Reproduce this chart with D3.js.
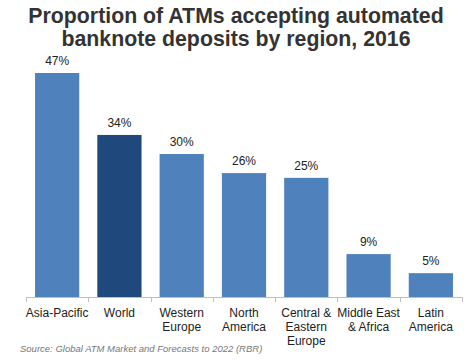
<!DOCTYPE html>
<html><head><meta charset="utf-8">
<script src="https://cdn.jsdelivr.net/npm/d3@7"></script>
<style>body{margin:0;background:#fff;}svg{display:block;font-family:"Liberation Sans",Arial,sans-serif;}</style>
</head><body><svg id="c" width="470" height="360"></svg>
<script>
const categories = [["Asia-Pacific"],["World"],["Western","Europe"],["North","America"],["Central &","Eastern","Europe"],["Middle East","& Africa"],["Latin","America"]];
const values = [47,34,30,26,25,9,5];
const highlight = [false,true,false,false,false,false,false];
const titleLines = ["Proportion of ATMs accepting automated","banknote deposits by region, 2016"];
const source = "Source: Global ATM Market and Forecasts to 2022 (RBR)";

const svg = d3.select("#c");
const x = d3.scaleBand().domain(d3.range(values.length)).range([26,462]).paddingInner(0.29).paddingOuter(0.145);
const y = d3.scaleLinear().domain([0,47]).range([297,73]);

svg.selectAll("text.title").data(titleLines).join("text")
  .attr("x",236).attr("y",(d,i)=>23+i*23).attr("text-anchor","middle")
  .attr("font-size",21.3).attr("font-weight","bold").attr("fill","#333")
  .text(d=>d);

svg.selectAll("rect.bar").data(values).join("rect")
  .attr("x",(d,i)=>x(i)).attr("width",x.bandwidth())
  .attr("y",d=>y(d)).attr("height",d=>y(0)-y(d))
  .attr("fill",(d,i)=>highlight[i]?"#1f497d":"#4f81bd");

svg.selectAll("text.val").data(values).join("text")
  .attr("x",(d,i)=>x(i)+x.bandwidth()/2).attr("y",d=>y(d)-8)
  .attr("text-anchor","middle").attr("font-size",12).attr("fill","#222")
  .text(d=>d+"%");

const edges = d3.range(values.length+1).map(i=>26+i*(436/values.length));
svg.append("line").attr("x1",26).attr("x2",462).attr("y1",297.5).attr("y2",297.5).attr("stroke","#bfbfbf");
svg.selectAll("line.tick").data(edges).join("line")
  .attr("x1",d=>Math.round(d)+0.5).attr("x2",d=>Math.round(d)+0.5).attr("y1",297).attr("y2",302).attr("stroke","#bfbfbf");

categories.forEach((lines,i)=>{
  svg.append("text").attr("text-anchor","middle").attr("font-size",12).attr("fill","#222")
    .selectAll("tspan").data(lines).join("tspan")
    .attr("x",x(i)+x.bandwidth()/2).attr("y",(d,j)=>317+j*14).text(d=>d);
});

svg.append("text").attr("x",20).attr("y",352).attr("font-size",9.5).attr("font-style","italic").attr("fill","#777").text(source);
</script></body></html>
